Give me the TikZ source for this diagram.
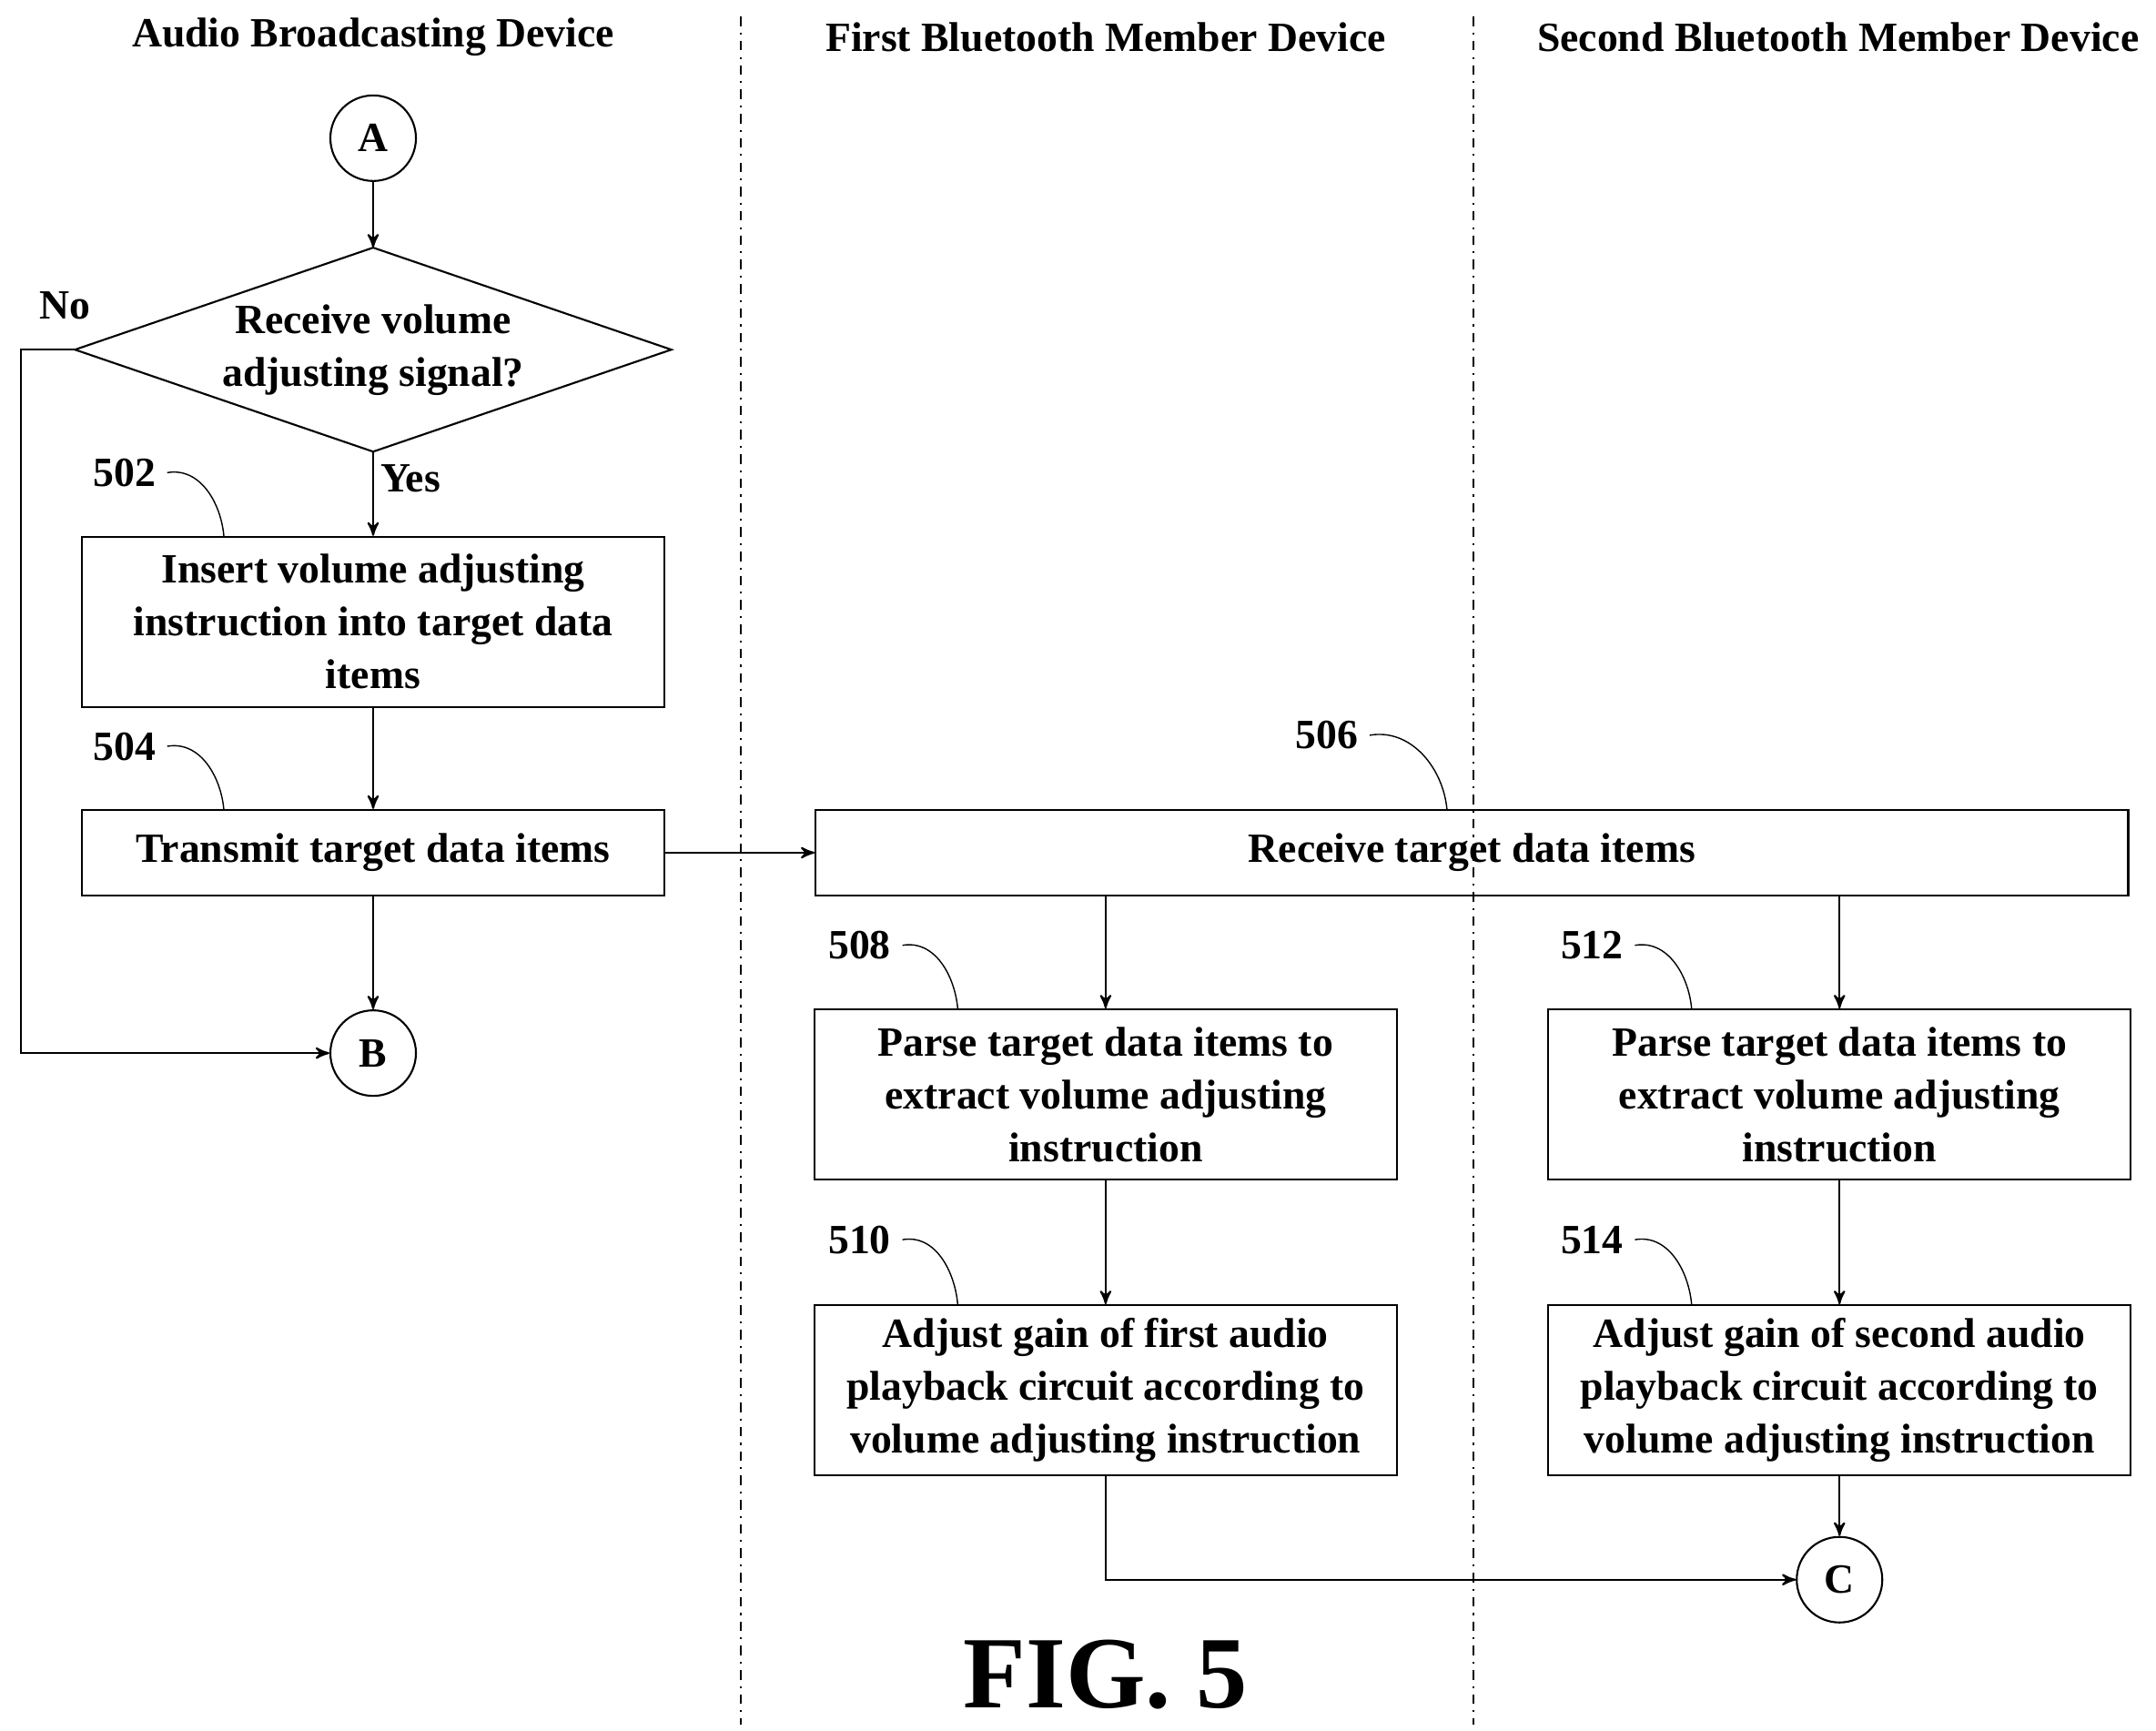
\documentclass[tikz,border=0pt]{standalone}
\usepackage{fontspec}
\setmainfont{Liberation Serif}
\usetikzlibrary{arrows,shapes.geometric,positioning}
\begin{document}
\begin{tikzpicture}[x=0.01518cm,y=-0.01518cm,>=stealth',semithick,
  font=\bfseries\fontsize{13}{16.5}\selectfont]
  \tikzstyle{box}=[draw,align=center,minimum width=6.4cm,minimum height=1.87cm,inner sep=2pt]
  \tikzstyle{conn}=[draw,circle,minimum size=0.94cm,inner sep=0pt]
  \tikzstyle{lane}=[dash dot,thin]
  \useasboundingbox (0,0) rectangle (1560,1252);

  \node at (270,27) {Audio Broadcasting Device};
  \node at (800,27) {First Bluetooth Member Device};
  \node at (1330,27) {Second Bluetooth Member Device};
  \draw[lane] (536,12) -- (536,1248);
  \draw[lane] (1066,12) -- (1066,1248);

  \node[conn] (A) at (270,100) {A};
  \node[minimum width=6.53cm,minimum height=2.22cm,inner sep=0pt,align=center] (D) at (270,253) {Receive volume\\adjusting signal?};
  \draw (D.north) -- (D.east) -- (D.south) -- (D.west) -- cycle;
  \node[box] (S502) at (270,450) {Insert volume adjusting\\instruction into target data\\items};
  \node[box,minimum height=0.94cm] (S504) at (270,617) {Transmit target data items};
  \node[conn] (B) at (270,762) {B};
  \node[box,minimum width=14.42cm,minimum height=0.94cm] (S506) at (1065,617) {Receive target data items};
  \node[box] (S508) at (800,792) {Parse target data items to\\extract volume adjusting\\instruction};
  \node[box] (S512) at (1331,792) {Parse target data items to\\extract volume adjusting\\instruction};
  \node[box] (S510) at (800,1006) {Adjust gain of first audio\\playback circuit according to\\volume adjusting instruction};
  \node[box] (S514) at (1331,1006) {Adjust gain of second audio\\playback circuit according to\\volume adjusting instruction};
  \node[conn] (C) at (1331,1143) {C};

  \node (no) at (47,221) {No};
  \node (yes) at (297,346) {Yes};
  \node (FIG) at (800,1212) {\fontsize{32}{34}\selectfont FIG. 5};

  % step labels
  \node (l502) at (90,342) {502};
  \node (l504) at (90,540) {504};
  \node (l506) at (960,532) {506};
  \node (l508) at (622,684) {508};
  \node (l512) at (1152,684) {512};
  \node (l510) at (622,897) {510};
  \node (l514) at (1152,897) {514};
  \draw[thin] (l502.east) to[out=10,in=95] (162,388);
  \draw[thin] (l504.east) to[out=10,in=95] (162,586);
  \draw[thin] (l506.east) to[out=10,in=95] (1047,586);
  \draw[thin] (l508.east) to[out=10,in=95] (693,730);
  \draw[thin] (l512.east) to[out=10,in=95] (1224,730);
  \draw[thin] (l510.east) to[out=10,in=95] (693,944);
  \draw[thin] (l514.east) to[out=10,in=95] (1224,944);

  \draw[->] (A) -- (D.north);
  \draw[->] (D.south) -- (S502);
  \draw[->] (D.west) -- (15,253) |- (B);
  \draw[->] (S502) -- (S504);
  \draw[->] (S504) -- (B);
  \draw[->] (S504) -- (S506);
  \draw[->] (S506.south -| S508) -- (S508);
  \draw[->] (S506.south -| S512) -- (S512);
  \draw[->] (S508) -- (S510);
  \draw[->] (S512) -- (S514);
  \draw[->] (S514) -- (C);
  \draw[->] (S510) |- (C);
\end{tikzpicture}
\end{document}
